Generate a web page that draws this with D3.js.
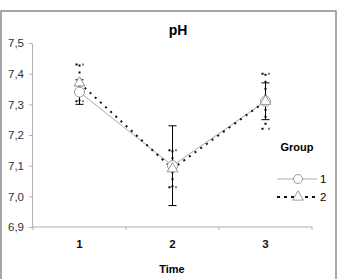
<!DOCTYPE html>
<meta charset="utf-8">
<style>
body { margin: 0; background: #fff; }
text { font-family: "Liberation Sans", Arial, sans-serif; }
.axis path, .axis line { stroke: #b0b0b0; }
.axis text { fill: #333; font-size: 11.5px; }
</style>
<svg width="341" height="279"></svg>
<script src="https://cdn.jsdelivr.net/npm/d3@7"></script>
<script>
// values
var times = ["1", "2", "3"];
var yTicks = [6.9, 7.0, 7.1, 7.2, 7.3, 7.4, 7.5];
var groups = ["1", "2"];
var mean1 = [7.34, 7.10, 7.31];
var low1  = [7.30, 6.97, 7.25];
var high1 = [7.38, 7.23, 7.37];
var mean2 = [7.37, 7.09, 7.31];
var low2  = [7.31, 7.03, 7.22];
var high2 = [7.43, 7.15, 7.40];

var svg = d3.select("svg");

var x = d3.scaleBand().domain(times).range([33, 312]),
    y = d3.scaleLinear().domain([6.9, 7.5]).range([227, 43]);

var fmt = d3.formatLocale({decimal: ",", thousands: ".", grouping: [3], currency: ["", ""]}).format(".1f");

// outer frame
svg.append("rect")
    .attr("x", 1).attr("y", 11)
    .attr("width", 335).attr("height", 270)
    .style("fill", "none")
    .style("stroke", "#8a8a8a")
    .style("stroke-width", 1.5);

svg.append("text")
    .attr("x", 178).attr("y", 35)
    .attr("text-anchor", "middle")
    .style("font-size", "14px").style("font-weight", "bold")
    .text("pH");

// y axis
svg.append("g")
    .attr("class", "axis")
    .attr("transform", "translate(32,0)")
    .call(d3.axisLeft(y).tickValues(yTicks).tickFormat(fmt).tickSize(3).tickSizeOuter(0).tickPadding(5));

// x axis: ticks at band edges, labels at centers
var xg = svg.append("g")
    .attr("class", "axis")
    .attr("transform", "translate(0,227)");
xg.append("line")
    .attr("x1", 32).attr("x2", x.range()[1]);
xg.selectAll(".edge")
    .data(times.concat(["end"]))
    .enter().append("line")
      .attr("class", "edge")
      .attr("x1", function(d) { return d === "end" ? x.range()[1] : x(d); })
      .attr("x2", function(d) { return d === "end" ? x.range()[1] : x(d); })
      .attr("y1", 0).attr("y2", 3);
xg.selectAll(".lab")
    .data(times)
    .enter().append("text")
      .attr("class", "lab")
      .attr("x", function(d) { return x(d) + x.bandwidth() / 2; })
      .attr("y", 21)
      .attr("text-anchor", "middle")
      .style("font-weight", "bold")
      .style("fill", "#111")
      .text(function(d) { return d; });

svg.append("text")
    .attr("x", 172).attr("y", 273)
    .attr("text-anchor", "middle")
    .style("font-size", "11px").style("font-weight", "bold")
    .text("Time");

var cx = function(i) { return x(times[i]) + x.bandwidth() / 2; };

var line = d3.line()
    .x(function(d, i) { return cx(i); })
    .y(function(d) { return y(d); });

// error bars
function errorBars(low, high, dashed) {
  var g = svg.append("g")
      .style("stroke", "#000")
      .style("stroke-width", dashed ? 2 : 1)
      .style("stroke-dasharray", dashed ? "2,5" : null);
  times.forEach(function(t, i) {
    g.append("line")
        .attr("x1", cx(i)).attr("x2", cx(i))
        .attr("y1", y(high[i])).attr("y2", y(low[i]));
    [low[i], high[i]].forEach(function(v) {
      g.append("line")
          .attr("x1", cx(i) - 4).attr("x2", cx(i) + 4)
          .attr("y1", y(v)).attr("y2", y(v));
    });
  });
}
errorBars(low2, high2, true);
errorBars(low1, high1, false);

svg.append("path")
    .attr("d", line(mean1))
    .style("fill", "none").style("stroke", "#a8a8a8").style("stroke-width", 1);

svg.append("path")
    .attr("d", line(mean2))
    .style("fill", "none").style("stroke", "#111").style("stroke-width", 2)
    .style("stroke-dasharray", "2,5");

var tri = d3.symbol().type(d3.symbolTriangle).size(50);

svg.selectAll(".m1")
    .data(mean1)
    .enter().append("circle")
      .attr("cx", function(d, i) { return cx(i); })
      .attr("cy", function(d) { return y(d); })
      .attr("r", 5)
      .style("fill", "#fff").style("stroke", "#999");

svg.selectAll(".m2")
    .data(mean2)
    .enter().append("path")
      .attr("d", tri)
      .attr("transform", function(d, i) { return "translate(" + cx(i) + "," + y(d) + ")"; })
      .style("fill", "#fff").style("stroke", "#999");

// legend
var lg = svg.append("g");
lg.append("text")
    .attr("x", 297).attr("y", 151)
    .attr("text-anchor", "middle")
    .style("font-size", "11px").style("font-weight", "bold")
    .text("Group");

groups.forEach(function(gname, i) {
  var ly = 179 + i * 18;
  lg.append("line")
      .attr("x1", 277).attr("x2", 317)
      .attr("y1", ly).attr("y2", ly)
      .style("stroke", i ? "#111" : "#a8a8a8")
      .style("stroke-width", i ? 2 : 1)
      .style("stroke-dasharray", i ? "3,4" : null);
  if (i === 0) {
    lg.append("circle").attr("cx", 298).attr("cy", ly).attr("r", 4.5)
        .style("fill", "#fff").style("stroke", "#999");
  } else {
    lg.append("path").attr("d", tri).attr("transform", "translate(298," + ly + ")")
        .style("fill", "#fff").style("stroke", "#999");
  }
  lg.append("text")
      .attr("x", 320).attr("y", ly + 4)
      .style("font-size", "11.5px")
      .text(gname);
});
</script>
